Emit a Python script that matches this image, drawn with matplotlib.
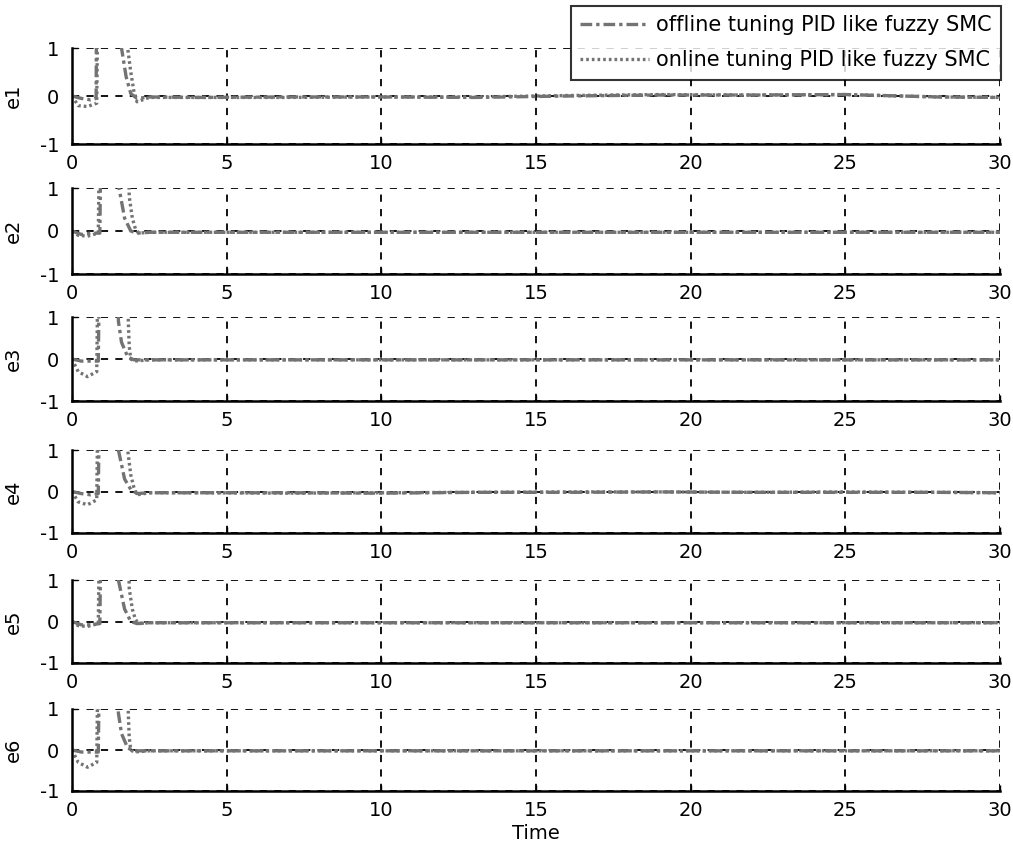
import numpy as np
import matplotlib
matplotlib.use("Agg")
import matplotlib.pyplot as plt

plt.rcParams['font.family'] = ['DejaVu Sans']

# ---------------- data ----------------
labels = ["e1", "e2", "e3", "e4", "e5", "e6"]
legend_labels = ["offline tuning PID like fuzzy SMC", "online tuning PID like fuzzy SMC"]
xticks = [0, 5, 10, 15, 20, 25, 30]
yticks = [-1, 0, 1]

# transient part (time, value); values above 1 are clipped by the axes
off_t = [
    [0, 0.3, 0.6, 0.78, 0.8, 1.55, 1.6, 1.75, 1.9, 2.1, 2.5],
    [0, 0.3, 0.6, 0.9, 0.95, 1.5, 1.52, 1.7, 1.9, 2.1, 2.5],
    [0, 0.3, 0.6, 0.85, 0.9, 1.45, 1.5, 1.6, 1.8, 2.0, 2.5],
    [0, 0.3, 0.6, 0.85, 0.9, 1.45, 1.5, 1.7, 1.9, 2.1, 2.5],
    [0, 0.3, 0.6, 0.9, 0.95, 1.45, 1.5, 1.7, 1.9, 2.1, 2.5],
    [0, 0.3, 0.6, 0.85, 0.9, 1.45, 1.5, 1.6, 1.8, 2.0, 2.5],
]
off_v = [
    [0.0, -0.05, -0.08, -0.05, 3.0, 3.0, 1.0, 0.4, 0.05, -0.05, -0.02],
    [0.0, -0.08, -0.05, -0.05, 3.0, 3.0, 1.0, 0.3, 0.0, -0.05, -0.03],
    [0.0, -0.05, -0.05, -0.05, 3.0, 3.0, 0.9, 0.4, 0.05, -0.02, -0.02],
    [0.0, -0.05, -0.08, -0.05, 3.0, 3.0, 1.0, 0.3, 0.05, -0.05, -0.03],
    [0.0, -0.08, -0.08, -0.05, 3.0, 3.0, 1.0, 0.3, 0.0, -0.05, -0.03],
    [0.0, -0.05, -0.05, -0.05, 3.0, 3.0, 0.9, 0.4, 0.05, -0.02, -0.02],
]
on_t = [
    [0, 0.2, 0.5, 0.8, 0.85, 1.7, 1.8, 1.9, 2.0, 2.1, 2.5],
    [0, 0.2, 0.5, 0.85, 0.9, 1.8, 1.85, 1.95, 2.05, 2.15, 2.5],
    [0, 0.2, 0.5, 0.8, 0.85, 1.8, 1.82, 1.85, 1.9, 2.0, 2.5],
    [0, 0.2, 0.5, 0.8, 0.85, 1.75, 1.8, 1.9, 2.0, 2.1, 2.5],
    [0, 0.2, 0.5, 0.85, 0.9, 1.8, 1.85, 1.95, 2.05, 2.15, 2.5],
    [0, 0.2, 0.5, 0.8, 0.85, 1.8, 1.82, 1.85, 1.9, 2.0, 2.5],
]
on_v = [
    [0.0, -0.2, -0.22, -0.15, 3.0, 3.0, 1.0, 0.5, 0.1, -0.12, -0.03],
    [0.0, -0.1, -0.12, -0.05, 3.0, 3.0, 0.8, 0.3, 0.05, -0.05, -0.03],
    [0.0, -0.3, -0.42, -0.3, 3.0, 3.0, 0.9, 0.3, 0.0, -0.05, -0.02],
    [0.0, -0.25, -0.32, -0.2, 3.0, 3.0, 1.0, 0.4, 0.1, -0.08, -0.03],
    [0.0, -0.1, -0.12, -0.05, 3.0, 3.0, 0.8, 0.3, 0.05, -0.05, -0.03],
    [0.0, -0.3, -0.42, -0.3, 3.0, 3.0, 0.9, 0.3, 0.0, -0.05, -0.02],
]
# steady-state part
ss_t = [4, 7, 10, 13, 16, 19, 22, 25, 28, 30]
off_ss = [
    [-0.03, -0.02, -0.02, -0.03, 0.0, 0.02, 0.02, 0.03, -0.02, -0.03],
    [-0.03, -0.03, -0.03, -0.03, -0.03, -0.03, -0.03, -0.03, -0.03, -0.03],
    [-0.02, -0.02, -0.02, -0.02, -0.02, -0.02, -0.02, -0.02, -0.02, -0.02],
    [-0.03, -0.03, -0.04, -0.02, -0.02, -0.01, -0.02, -0.02, -0.02, -0.03],
    [-0.03, -0.03, -0.03, -0.03, -0.03, -0.03, -0.03, -0.03, -0.03, -0.03],
    [-0.02, -0.02, -0.02, -0.02, -0.02, -0.02, -0.02, -0.02, -0.02, -0.02],
]
on_ss = [
    [-0.03, -0.03, -0.02, -0.02, 0.01, 0.03, 0.02, 0.03, -0.02, -0.03],
    [-0.03, -0.03, -0.03, -0.03, -0.03, -0.03, -0.03, -0.03, -0.03, -0.03],
    [-0.02, -0.02, -0.02, -0.02, -0.02, -0.02, -0.02, -0.02, -0.02, -0.02],
    [-0.03, -0.04, -0.03, -0.02, -0.01, -0.01, -0.02, -0.01, -0.02, -0.03],
    [-0.03, -0.03, -0.03, -0.03, -0.03, -0.03, -0.03, -0.03, -0.03, -0.03],
    [-0.02, -0.02, -0.02, -0.02, -0.02, -0.02, -0.02, -0.02, -0.02, -0.02],
]

# ---------------- layout ----------------
W, H = 1013, 852
fig = plt.figure(figsize=(W / 100, H / 100), dpi=100)
left_px, right_px = 72, 1000
rows_px = [(48, 144), (188, 274), (317, 401), (450, 533), (580, 663), (709, 791)]

gray = (0.45, 0.45, 0.45)
fs = 14
lines = []
for i, (top, bot) in enumerate(rows_px):
    ax = fig.add_axes([left_px / W, 1 - bot / H, (right_px - left_px) / W, (bot - top) / H])
    t_off = np.array(off_t[i] + ss_t)
    v_off = np.array(off_v[i] + off_ss[i])
    t_on = np.array(on_t[i] + ss_t)
    v_on = np.array(on_v[i] + on_ss[i])
    l1, = ax.plot(t_off, v_off, color=gray, lw=2.4, linestyle=(0, (3.5, 1.2, 1.0, 1.2)))
    l2, = ax.plot(t_on, v_on, color=gray, lw=2.4, linestyle=(0, (0.8, 0.9)))
    if i == 0:
        lines = [l1, l2]
    ax.set_xlim(0, 30)
    ax.set_ylim(-1, 1)
    ax.set_xticks(xticks)
    ax.set_yticks(yticks)
    ax.set_xticklabels([str(v) for v in xticks])
    ax.set_yticklabels([str(v) for v in yticks])
    ax.tick_params(direction='in', length=4, width=1, labelsize=fs)
    ax.tick_params(axis='x', pad=7)
    ax.tick_params(axis='y', pad=9)
    ax.grid(True, color='black', linestyle=(0, (4, 4)), linewidth=1.3)
    ax.spines['top'].set_visible(False)
    ax.spines['right'].set_visible(False)
    ax.spines['left'].set_linewidth(1.8)
    ax.spines['bottom'].set_linewidth(1.8)
    ax.set_ylabel(labels[i], fontsize=fs, labelpad=12)
    if i == len(rows_px) - 1:
        ax.set_xlabel("Time", fontsize=fs, labelpad=3)

leg = fig.legend(lines, legend_labels, loc='upper right',
                 bbox_to_anchor=(1001 / W, 1 - 6 / H), fontsize=15,
                 frameon=True, fancybox=False, edgecolor='black',
                 handlelength=3.3, borderpad=0.45, labelspacing=0.72,
                 handletextpad=0.35, borderaxespad=0)
leg.get_frame().set_linewidth(1.5)

fig.savefig("out.png", dpi=100)
